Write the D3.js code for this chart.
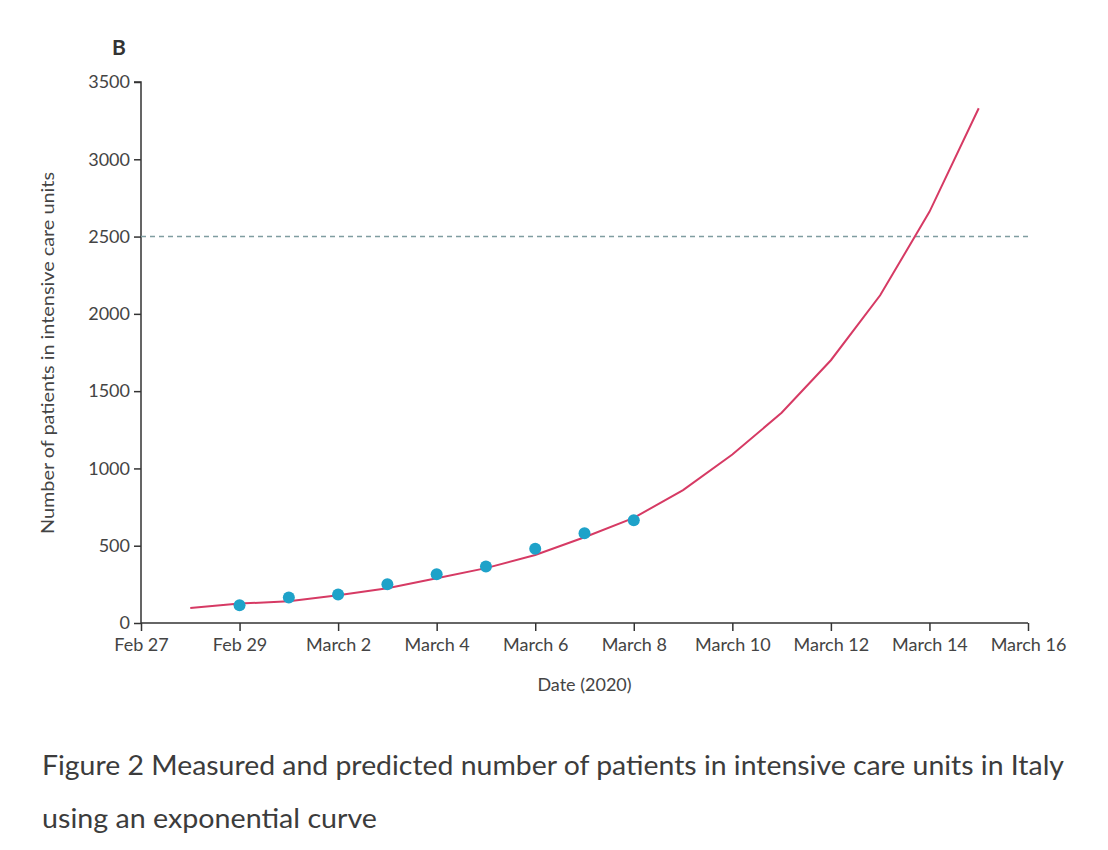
<!DOCTYPE html>
<html>
<head>
<meta charset="utf-8" />
<title>ICU patients Italy</title>
<script src="https://d3js.org/d3.v7.min.js"></script>
<style>
  body { margin: 0; background: #fff; }
  * { font-family: Lato, "Open Sans", sans-serif; }
  .axis path, .axis line { stroke: #333; stroke-width: 1.5px; }
  .axis text { fill: #444; font-size: 18px; }
</style>
</head>
<body>
<script>
// measured ICU patients (dots)
const measuredDates = ['2020-02-29', '2020-03-01', '2020-03-02', '2020-03-03', '2020-03-04',
                       '2020-03-05', '2020-03-06', '2020-03-07', '2020-03-08'];
const measuredValues = [115, 165, 185, 250, 315, 365, 480, 580, 665];

// exponential fit / prediction (line)
const fitDates = ['2020-02-28', '2020-02-29', '2020-03-01', '2020-03-02', '2020-03-03', '2020-03-04',
                  '2020-03-05', '2020-03-06', '2020-03-07', '2020-03-08', '2020-03-09', '2020-03-10',
                  '2020-03-11', '2020-03-12', '2020-03-13', '2020-03-14', '2020-03-15'];
const fitValues = [97, 126, 140, 180, 225, 290, 355, 440, 555, 680, 860, 1090, 1360, 1700, 2120, 2660, 3330];

const capacity = 2500;
const yTicks = [0, 500, 1000, 1500, 2000, 2500, 3000, 3500];
const xTickDates = ['2020-02-27', '2020-02-29', '2020-03-02', '2020-03-04', '2020-03-06',
                    '2020-03-08', '2020-03-10', '2020-03-12', '2020-03-14', '2020-03-16'];
const xTickLabels = ['Feb 27', 'Feb 29', 'March 2', 'March 4', 'March 6',
                     'March 8', 'March 10', 'March 12', 'March 14', 'March 16'];

const parse = d3.utcParse('%Y-%m-%d');
const W = 1108, H = 850;
const plotLeft = 141, plotRight = 1028, plotTop = 82, plotBottom = 623;

const svg = d3.select('body').append('svg').attr('width', W).attr('height', H);

const x = d3.scaleUtc()
    .domain([parse('2020-02-27'), parse('2020-03-16')])
    .range([plotLeft, plotRight]);
const y = d3.scaleLinear().domain([0, 3500]).range([plotBottom, plotTop]);

// axes
svg.append('g')
    .attr('class', 'axis')
    .attr('transform', `translate(${plotLeft},0)`)
    .call(d3.axisLeft(y).tickValues(yTicks).tickSize(7).tickPadding(4).tickFormat(d3.format('d')))
    .call(g => g.select('.domain').attr('d', `M0,${plotBottom}V${plotTop}H-7`));

svg.append('g')
    .attr('class', 'axis')
    .attr('transform', `translate(0,${plotBottom})`)
    .call(d3.axisBottom(x).tickValues(xTickDates.map(parse)).tickSize(8).tickPadding(7)
        .tickFormat((d, i) => xTickLabels[i]))
    .call(g => g.select('.domain').attr('d', `M${plotLeft},0H${plotRight}`));

// capacity line
svg.append('line')
    .attr('x1', plotLeft).attr('x2', plotRight)
    .attr('y1', y(capacity)).attr('y2', y(capacity))
    .attr('stroke', '#7f9da1').attr('stroke-width', 1.6)
    .attr('stroke-dasharray', '5,4');

// fitted curve
const fit = fitDates.map((d, i) => ({ date: parse(d), value: fitValues[i] }));
svg.append('path')
    .datum(fit)
    .attr('fill', 'none')
    .attr('stroke', '#d63a64')
    .attr('stroke-width', 2)
    .attr('d', d3.line().x(d => x(d.date)).y(d => y(d.value)));

// measured dots
const measured = measuredDates.map((d, i) => ({ date: parse(d), value: measuredValues[i] }));
svg.selectAll('circle.pt')
    .data(measured)
    .join('circle')
    .attr('class', 'pt')
    .attr('cx', d => x(d.date))
    .attr('cy', d => y(d.value))
    .attr('r', 6)
    .attr('fill', '#1ea2c9');

// labels
svg.append('text')
    .attr('x', 119).attr('y', 55)
    .attr('text-anchor', 'middle')
    .attr('font-size', 21).attr('font-weight', 'bold').attr('fill', '#333')
    .text('B');

svg.append('text')
    .attr('transform', 'translate(54,353) rotate(-90)')
    .attr('text-anchor', 'middle')
    .attr('font-size', 17).attr('fill', '#444')
    .attr('textLength', 362).attr('lengthAdjust', 'spacingAndGlyphs')
    .text('Number of patients in intensive care units');

svg.append('text')
    .attr('x', (plotLeft + plotRight) / 2).attr('y', 691)
    .attr('text-anchor', 'middle')
    .attr('font-size', 18).attr('fill', '#444')
    .text('Date (2020)');

// caption
svg.append('text')
    .attr('x', 42).attr('y', 775)
    .attr('font-size', 27).attr('fill', '#3c3c3c')
    .attr('textLength', 1022).attr('lengthAdjust', 'spacingAndGlyphs')
    .text('Figure 2 Measured and predicted number of patients in intensive care units in Italy');

svg.append('text')
    .attr('x', 42).attr('y', 828)
    .attr('font-size', 27).attr('fill', '#3c3c3c')
    .attr('textLength', 335).attr('lengthAdjust', 'spacingAndGlyphs')
    .text('using an exponential curve');
</script>
</body>
</html>
